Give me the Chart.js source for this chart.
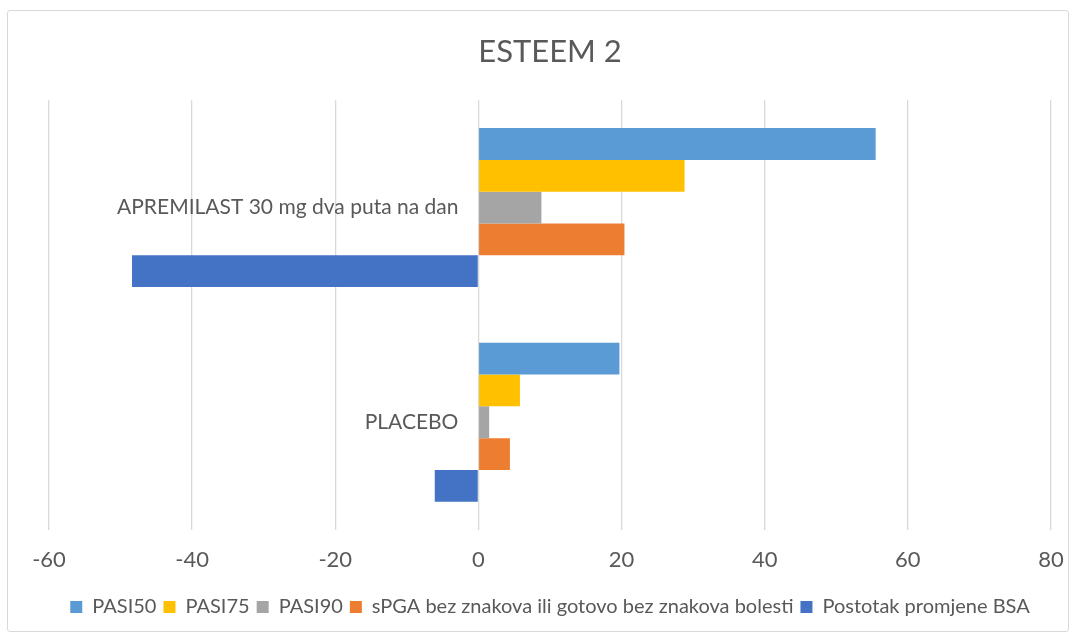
<!DOCTYPE html>
<html>
<head>
<meta charset="utf-8">
<script src="https://cdn.jsdelivr.net/npm/chart.js@4/dist/chart.umd.min.js"></script>
<style>
  html, body { margin: 0; padding: 0; background: #fff; }
  #okvir {
    position: absolute; left: 7px; top: 10px; width: 1060px; height: 620px;
    border: 1px solid #d9d9d9; border-radius: 3px;
  }
  #wrap { position: absolute; left: 0; top: 0; width: 1076px; height: 637px; }
</style>
</head>
<body>
<div id="okvir"></div>
<div id="wrap"><canvas id="chartCanvas"></canvas></div>
<script>
// Kategorije (grupe)
const kategorije = ['APREMILAST 30 mg dva puta na dan', 'PLACEBO'];

// Vrijednosti po seriji (apremilast, placebo)
const pasi50 = [55.5, 19.7];
const pasi75 = [28.8, 5.8];
const pasi90 = [8.8, 1.5];
const spga = [20.4, 4.4];
const bsa = [-48.4, -6.1];

const nazivi = ['PASI50', 'PASI75', 'PASI90', 'sPGA bez znakova ili gotovo bez znakova bolesti', 'Postotak promjene BSA'];
const boje = ['#5B9BD5', '#FFC000', '#A5A5A5', '#ED7D31', '#4472C4'];
const xTicks = [-60, -40, -20, 0, 20, 40, 60, 80];

const serije = [pasi50, pasi75, pasi90, spga, bsa];
const siva = '#595959';
const font = 'Lato, "Open Sans", sans-serif';

// Natpisi kategorija lijevo od nule (kao u Excelu)
const natpisiKategorija = {
    id: 'natpisiKategorija',
    afterDatasetsDraw(chart) {
        const { ctx, scales: { x, y } } = chart;
        const x0 = x.getPixelForValue(0) - 20;
        ctx.save();
        ctx.fillStyle = siva;
        ctx.font = '21px ' + font;
        ctx.textAlign = 'right';
        ctx.textBaseline = 'middle';
        chart.data.labels.forEach((label, i) => {
            ctx.fillText(label, x0, y.getPixelForTick(i));
        });
        ctx.restore();
    }
};

const ctx = document.getElementById('chartCanvas').getContext('2d');

new Chart(ctx, {
    type: 'bar',
    data: {
        labels: kategorije,
        datasets: serije.map((vrijednosti, i) => ({
            label: nazivi[i],
            data: vrijednosti,
            backgroundColor: boje[i],
            borderWidth: 0,
            categoryPercentage: 0.74,
            barPercentage: 1.0
        }))
    },
    options: {
        indexAxis: 'y',
        responsive: true,
        maintainAspectRatio: false,
        animation: false,
        layout: { padding: { left: 49, right: 25, top: 0, bottom: 10 } },
        scales: {
            x: {
                min: xTicks[0],
                max: xTicks[xTicks.length - 1],
                afterBuildTicks: scale => { scale.ticks = xTicks.map(v => ({ value: v })); },
                afterFit: scale => { scale.paddingLeft = 28; scale.paddingRight = 6; },
                grid: { color: '#d9d9d9', lineWidth: 1.3, drawTicks: false },
                border: { display: false },
                ticks: { color: siva, font: { family: font, size: 22 }, padding: 17 }
            },
            y: {
                position: { x: 0 },
                grid: { display: false },
                border: { display: false },
                ticks: { display: false }
            }
        },
        plugins: {
            title: {
                display: true,
                text: 'ESTEEM 2',
                color: siva,
                font: { family: font, size: 31, weight: 'normal' },
                padding: { top: 33, bottom: 30 }
            },
            legend: {
                position: 'bottom',
                labels: {
                    color: siva,
                    font: { family: font, size: 20 },
                    boxWidth: 12,
                    boxHeight: 12,
                    padding: 7
                }
            },
            tooltip: { enabled: false }
        }
    },
    plugins: [natpisiKategorija]
});
</script>
</body>
</html>
